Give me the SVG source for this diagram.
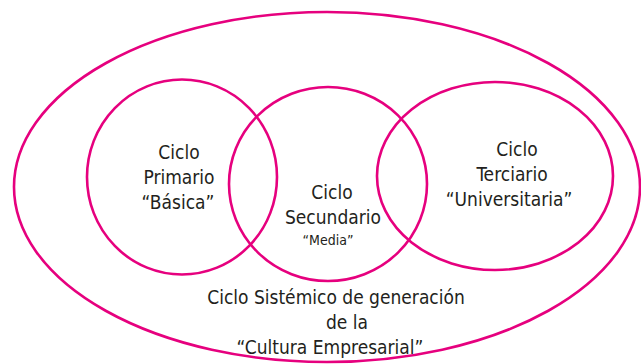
<svg xmlns="http://www.w3.org/2000/svg" width="641" height="364" viewBox="0 0 641 364">
<style>
.c{fill:none;stroke:#E6007E;stroke-width:2.6}
.t{font-family:"Liberation Sans Narrow","DejaVu Sans Condensed","Liberation Sans",sans-serif;font-size:19px;fill:#231F20;text-anchor:middle}
.s{font-size:14px}
</style>
<rect width="641" height="364" fill="#fff"/>
<g id="outer"><ellipse class="c" cx="327" cy="187" rx="313" ry="175"/>
<text class="t" x="336" y="304">Ciclo Sistémico de generación</text>
<text class="t" x="347" y="329">de la</text>
<text class="t" x="330" y="354">“Cultura Empresarial”</text></g>
<g id="primario"><ellipse class="c" cx="182" cy="177" rx="95" ry="97.5"/>
<text class="t" x="179" y="159">Ciclo</text>
<text class="t" x="179" y="184">Primario</text>
<text class="t" x="178" y="209">“Básica”</text></g>
<g id="secundario"><ellipse class="c" cx="328" cy="184" rx="99" ry="97"/>
<text class="t" x="332" y="199">Ciclo</text>
<text class="t" x="333" y="224">Secundario</text>
<text class="t s" x="328" y="245">“Media”</text></g>
<g id="terciario"><ellipse class="c" cx="495" cy="176" rx="118" ry="94"/>
<text class="t" x="517" y="156">Ciclo</text>
<text class="t" x="512" y="181">Terciario</text>
<text class="t" x="509" y="206">“Universitaria”</text></g>
<g id="connectors"/>
</svg>
